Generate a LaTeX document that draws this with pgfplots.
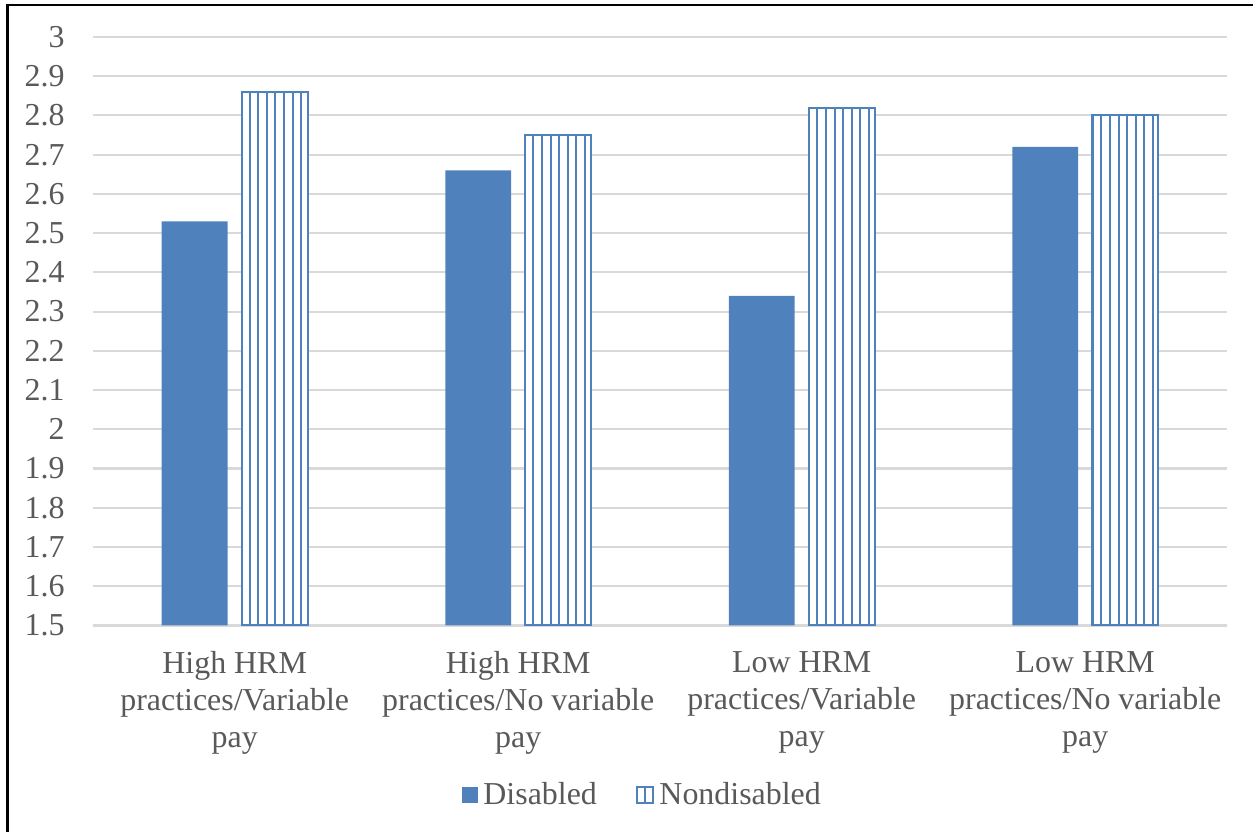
\documentclass[border=0pt]{standalone}
\usepackage{fontspec}
\setmainfont{Liberation Serif}
\usepackage{pgfplots}
\pgfplotsset{compat=1.18}
\usetikzlibrary{patterns.meta}
\definecolor{barblue}{HTML}{4F81BD}
\definecolor{gridgray}{HTML}{D9D9D9}
\definecolor{txtgray}{HTML}{595959}
\begin{document}
\begin{tikzpicture}
\begin{axis}[
  scale only axis, width=408.6pt, height=212.04pt,
  xmin=-0.5, xmax=3.5, ymin=1.5, ymax=3,
  ytick={1.5,1.6,...,3.01},
  xtick={0,1,2,3},
  xticklabels={{High HRM\\practices/Variable\\pay},{High HRM\\practices/No variable\\pay},{Low HRM\\practices/Variable\\pay},{Low HRM\\practices/No variable\\pay}},
  /pgf/number format/assume math mode=true,
  y tick label style={/pgf/number format/fixed, inner sep=0pt, xshift=-10pt, font=\fontsize{11.5}{13.3}\selectfont, text=txtgray},
  x tick label style={align=center, inner sep=0pt, yshift=-9.3pt, font=\fontsize{11.5}{13.3}\selectfont, text=txtgray},
  major tick length=0pt, tick style={draw=none},
  axis line style={draw=none},
  ymajorgrids, major grid style={gridgray, line width=0.75pt},
  ybar, bar width=23.76pt,
  legend columns=2,
  legend style={at={(0.486,-0.2886)}, anchor=center, draw=none, fill=none,
    font=\fontsize{11.5}{13.3}\selectfont, text=txtgray,
    /tikz/every even column/.append style={column sep=12pt}},
  legend image code/.code={\path[#1] (0pt,-2.9pt) rectangle (5.8pt,2.9pt);},
]
\addplot[bar shift=-14.4pt, fill=barblue, draw=none]
  coordinates {(0,2.53) (1,2.66) (2,2.34) (3,2.72)};
\addplot[bar shift=14.4pt, draw=barblue, line width=0.75pt, fill=white,
  postaction={pattern={Lines[angle=90,distance=3.1pt,line width=0.72pt]}, pattern color=barblue}]
  coordinates {(0,2.86) (1,2.75) (2,2.82) (3,2.80)};
\legend{Disabled,Nondisabled}
\end{axis}
\draw[black, line width=0.75pt] (-30.78pt,-74.52pt) -- (-30.78pt,223.56pt) -- (417.96pt,223.56pt);
\path[use as bounding box] (-33.48pt,-74.52pt) rectangle (417.96pt,225.36pt);
\end{tikzpicture}
\end{document}
